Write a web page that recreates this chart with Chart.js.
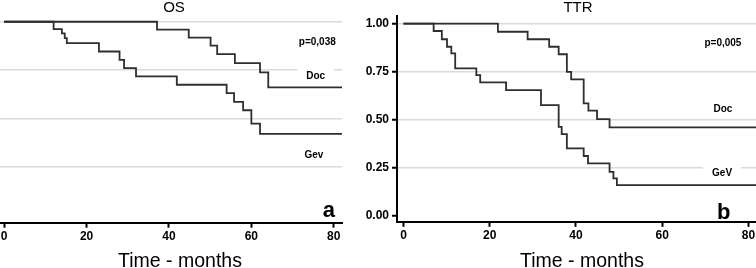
<!DOCTYPE html>
<html>
<head>
<meta charset="utf-8">
<script src="https://cdn.jsdelivr.net/npm/chart.js@4.4.0/dist/chart.umd.min.js"></script>
<style>
  html, body { margin: 0; padding: 0; background: #fff; overflow: hidden; }
  body { width: 756px; height: 268px; position: relative; }
  canvas { position: absolute; top: 0; }
  #os { left: -60px; }
  #ttr { left: 346px; }
</style>
</head>
<body>
<canvas id="os" width="406" height="268"></canvas>
<canvas id="ttr" width="412" height="268"></canvas>
<script>
"use strict";

const FONT = "'Liberation Sans', Arial, sans-serif";
Chart.defaults.font.family = FONT;
Chart.defaults.color = "#000";

// tick labels
const xTicks = [0, 20, 40, 60, 80];
const yTicks = [0, 0.25, 0.5, 0.75, 1];

// OS (panel a)
const osDocTime = [0, 37.1, 44.8, 50.1, 51.7, 56.0, 62.1, 64.1, 82];
const osDocSurv = [1, 0.959, 0.918, 0.876, 0.832, 0.786, 0.738, 0.66, 0.66];
const osGevTime = [0, 12.0, 14.0, 14.7, 15.2, 23.0, 28.0, 29.1, 32.0, 41.9, 54.0, 55.8, 58.0, 60.0, 62.1, 82];
const osGevSurv = [1, 0.962, 0.94, 0.915, 0.889, 0.846, 0.803, 0.76, 0.717, 0.674, 0.631, 0.585, 0.542, 0.473, 0.42, 0.42];

// TTR (panel b)
const ttrDocTime = [0, 21.9, 28.8, 33.8, 36.0, 37.9, 38.9, 41.8, 42.9, 44.9, 47.8, 82];
const ttrDocSurv = [1, 0.958, 0.919, 0.88, 0.841, 0.75, 0.711, 0.586, 0.548, 0.504, 0.461, 0.461];
const ttrGevTime = [0, 7.0, 8.9, 10.1, 11.1, 12.0, 16.9, 17.8, 23.8, 31.9, 36.0, 36.7, 37.9, 41.8, 42.8, 47.8, 48.7, 49.5, 82];
const ttrGevSurv = [1, 0.962, 0.919, 0.88, 0.846, 0.768, 0.733, 0.695, 0.655, 0.577, 0.464, 0.426, 0.352, 0.312, 0.274, 0.23, 0.196, 0.161, 0.161];

const toPoints = (t, s) => t.map((x, i) => ({ x: x, y: s[i] }));

const curve = (label, t, s) => ({
  label: label,
  data: toPoints(t, s),
  stepped: "before",
  borderColor: "#2e2e2e",
  borderWidth: 1.8,
  pointRadius: 0,
  fill: false,
});

// text drawn on top of the plot
const annotate = {
  id: "annotate",
  beforeDatasetsDraw(chart, args, opts) {
    const { ctx, scales } = chart;
    ctx.save();
    ctx.textAlign = "center";
    opts.labels.forEach((l) => {
      const px = scales.x.getPixelForValue(l.x);
      const py = scales.y.getPixelForValue(l.y);
      ctx.font = l.font;
      if (l.box) {
        const w = ctx.measureText(l.text).width + 18;
        ctx.fillStyle = "#fff";
        ctx.fillRect(px - w / 2, py - 7, w, 14);
      }
      ctx.fillStyle = "#000";
      ctx.textBaseline = l.base || "middle";
      ctx.fillText(l.text, px, py);
    });
    ctx.restore();
  },
  afterDraw(chart, args, opts) {
    const { ctx, chartArea } = chart;
    const cx = (chartArea.left + chartArea.right) / 2;
    ctx.save();
    ctx.fillStyle = "#000";
    ctx.textAlign = "center";
    ctx.textBaseline = "middle";
    ctx.font = "15px " + FONT;
    ctx.fillText(opts.title, cx + opts.titleDx, 7.5);
    ctx.textBaseline = "alphabetic";
    ctx.font = "19.5px " + FONT;
    ctx.fillText("Time - months", cx + opts.axisDx, 266.5);
    ctx.restore();
  },
};

function makeChart(id, cfg) {
  return new Chart(document.getElementById(id), {
    type: "line",
    data: {
      datasets: [
        curve("Doc", cfg.docT, cfg.docS),
        curve("Gev", cfg.gevT, cfg.gevS),
      ],
    },
    plugins: [annotate],
    options: {
      responsive: false,
      animation: false,
      devicePixelRatio: 1,
      layout: { padding: { top: cfg.top, right: cfg.right, bottom: 0, left: 0 } },
      plugins: {
        legend: { display: false },
        tooltip: { enabled: false },
        annotate: { labels: cfg.labels, title: cfg.title, titleDx: cfg.titleDx, axisDx: cfg.axisDx },
      },
      scales: {
        x: {
          type: "linear",
          min: -1.5,
          max: 82,
          afterBuildTicks: (s) => { s.ticks = xTicks.map((v) => ({ value: v })); },
          afterFit: (s) => { s.height = cfg.xh; },
          grid: { drawOnChartArea: false, tickLength: 5, tickColor: "#000", tickWidth: 2 },
          border: { color: "#000", width: 2 },
          ticks: { color: "#000", padding: 2, maxRotation: 0, autoSkip: false, font: { size: 12, weight: "bold" } },
        },
        y: {
          type: "linear",
          min: cfg.ymin,
          max: 1.04,
          afterBuildTicks: (s) => { s.ticks = yTicks.map((v) => ({ value: v })); },
          afterFit: (s) => { s.width = cfg.yw; },
          grid: {
            color: (c) => (c.tick && c.tick.value === 0 ? "rgba(0,0,0,0)" : "#dadada"),
            lineWidth: 1.5,
            tickLength: 5,
            tickColor: "#000",
            tickWidth: 2,
          },
          border: { color: "#000", width: 2 },
          ticks: { color: "#000", padding: 3, font: { size: 12, weight: "bold" }, callback: (v) => v.toFixed(2) },
        },
      },
    },
  });
}

makeChart("os", {
  docT: osDocTime, docS: osDocSurv, gevT: osGevTime, gevS: osGevSurv,
  top: 14, right: 4, xh: 45.3, yw: 58, ymin: -0.04,
  title: "OS", titleDx: 4, axisDx: 10,
  labels: [
    { text: "p=0,038", x: 76.0, y: 0.895, font: "bold 10px " + FONT },
    { text: "Doc", x: 75.6, y: 0.72, font: "bold 10px " + FONT, box: true },
    { text: "Gev", x: 75.2, y: 0.31, font: "bold 10px " + FONT, box: true },
    { text: "a", x: 78.8, y: -0.01, font: "bold 22px " + FONT, base: "alphabetic" },
  ],
});

makeChart("ttr", {
  docT: ttrDocTime, docS: ttrDocSurv, gevT: ttrGevTime, gevS: ttrGevSurv,
  top: 16, right: 1, xh: 46.2, yw: 51, ymin: -0.03,
  title: "TTR", titleDx: 1, axisDx: 5,
  labels: [
    { text: "p=0,005", x: 74.1, y: 0.9, font: "bold 10px " + FONT },
    { text: "Doc", x: 74.1, y: 0.556, font: "bold 10px " + FONT, box: true },
    { text: "GeV", x: 73.9, y: 0.224, font: "bold 10px " + FONT, box: true },
    { text: "b", x: 74.3, y: -0.017, font: "bold 22px " + FONT, base: "alphabetic" },
  ],
});
</script>
</body>
</html>
